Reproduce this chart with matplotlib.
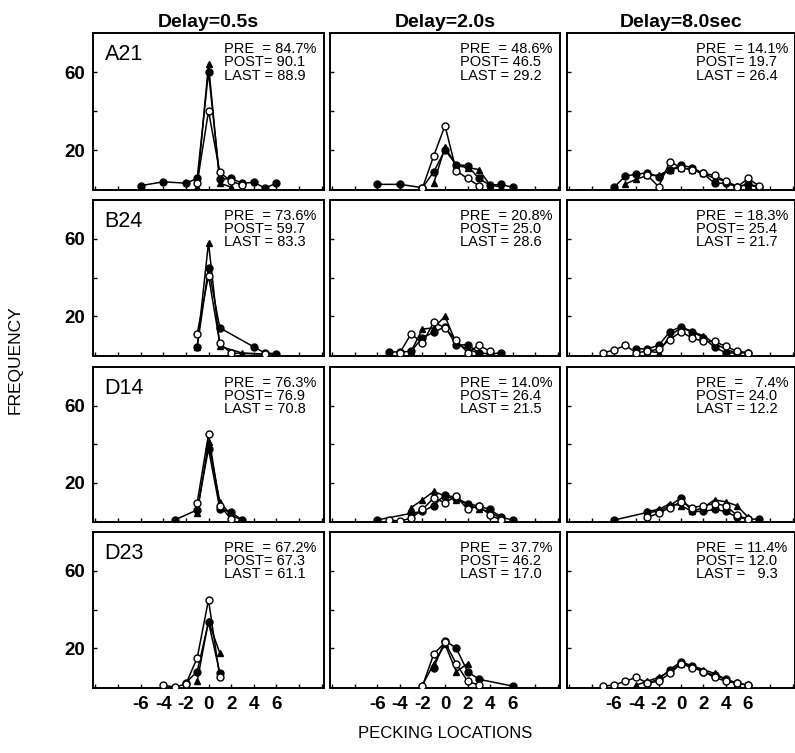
import matplotlib
matplotlib.use("Agg")
import matplotlib.pyplot as plt

plt.rcParams['font.family'] = ['Liberation Sans', 'DejaVu Sans']

# column / row labels
delays = ["Delay=0.5s", "Delay=2.0s", "Delay=8.0sec"]
birds = ["A21", "B24", "D14", "D23"]

# accuracy text per bird, per delay: (PRE, POST, LAST)
stats = {
    "A21": [("84.7%", "90.1", "88.9"), ("48.6%", "46.5", "29.2"), ("14.1%", "19.7", "26.4")],
    "B24": [("73.6%", "59.7", "83.3"), ("20.8%", "25.0", "28.6"), ("18.3%", "25.4", "21.7")],
    "D14": [("76.3%", "76.9", "70.8"), ("14.0%", "26.4", "21.5"), ("  7.4%", "24.0", "12.2")],
    "D23": [("67.2%", "67.3", "61.1"), ("37.7%", "46.2", "17.0"), ("11.4%", "12.0", "  9.3")],
}

# pecking-location frequencies, (x, y) per series: open circle, filled circle, triangle
a21_05_open = ([-1, 0, 1, 2, 3], [3, 40, 8.5, 4, 2])
a21_05_fill = ([-6, -4, -2, -1, 0, 1, 2, 3, 4, 5, 6], [1.7, 3.7, 3, 5.4, 60, 5, 5.4, 3, 3.4, 0.5, 3])
a21_05_tri = ([-1, 0, 1, 2], [1, 64, 3, 1])

a21_20_open = ([-2, -1, 0, 1, 2, 3], [0.5, 17, 32.5, 9.3, 5.4, 1.7])
a21_20_fill = ([-6, -4, -2, -1, 0, 1, 2, 3, 4, 5, 6], [2.4, 2.4, 0.7, 8.8, 20, 12.5, 12, 5.4, 2, 2.4, 0.8])
a21_20_tri = ([-1, 0, 1, 2, 3, 4, 5], [3, 21.5, 12, 11, 10, 2, 1])

a21_80_open = ([-3, -2, -1, 0, 1, 2, 3, 4, 5, 6, 7], [7, 1.2, 14, 11, 10, 8, 7, 4, 1, 5.4, 1.5])
a21_80_fill = ([-6, -5, -4, -3, -2, -1, 0, 1, 2, 3, 4, 5, 6, 7], [0.8, 6.6, 7.6, 8.3, 6.3, 9.7, 12.2, 11, 8, 2.9, 3, 1.2, 2.5, 1.2])
a21_80_tri = ([-5, -4, -3, -2, -1, 0, 1, 2, 3, 4, 5, 6, 7], [2.5, 5, 7, 7, 10, 11, 9.7, 8, 5.5, 4, 1.5, 2, 1])

b24_05_open = ([-1, 0, 1, 2, 5], [11, 41, 6, 1, 0.5])
b24_05_fill = ([-1, 0, 1, 4, 5, 6], [4, 45, 14, 4.2, 1, 0.7])
b24_05_tri = ([-1, 0, 1, 3, 5, 6], [4, 58, 4.5, 1, 0.5, 0.5])

b24_20_open = ([-4, -3, -2, -1, 0, 1, 2, 3, 4], [1.2, 11, 6, 17, 14, 7.6, 1.2, 5, 2])
b24_20_fill = ([-5, -4, -3, -2, -1, 0, 1, 2, 3, 4, 5], [1.7, 1.5, 2, 9, 11.7, 14.7, 5, 5.4, 1.2, 0.5, 1.2])
b24_20_tri = ([-3, -2, -1, 0, 1, 2, 3], [2, 13.4, 14, 20, 6, 3, 1])

b24_80_open = ([-7, -6, -5, -4, -3, -2, -1, 0, 1, 2, 3, 4, 5, 6], [1.2, 2.5, 5, 1.2, 2, 3, 8, 12, 8.8, 7, 7, 4.5, 2, 1.2])
b24_80_fill = ([-4, -3, -2, -1, 0, 1, 2, 3, 4, 5, 6], [3.2, 3.2, 5, 12, 14.7, 12, 9, 4, 1.2, 1, 1.2])
b24_80_tri = ([-3, -2, -1, 0, 1, 2, 3, 4, 5], [2, 1.2, 10, 14, 12, 10, 6, 3, 1])

d14_05_open = ([-1, 0, 1, 2], [9.5, 45, 8, 1])
d14_05_fill = ([-3, -1, 0, 1, 2, 3], [0.5, 5.8, 37.5, 6.4, 4.5, 0.5])
d14_05_tri = ([-1, 0, 1, 2, 3], [4, 40.8, 10, 3, 0.5])

d14_20_open = ([-5, -4, -3, -2, -1, 0, 1, 2, 3, 4, 5], [0.5, 0, 1.5, 6, 12, 9.5, 13, 6, 8, 3, 0.5])
d14_20_fill = ([-6, -3, -2, -1, 0, 1, 2, 3, 4, 5, 6], [0.6, 4, 5, 8, 13.7, 12, 9, 7.8, 6, 2, 0.5])
d14_20_tri = ([-3, -2, -1, 0, 1, 2, 3, 4, 5], [7, 11, 15.4, 13, 11, 9, 6, 5, 1])

d14_80_open = ([-3, -2, -1, 0, 1, 2, 3, 4, 5, 6], [2, 4, 7, 10, 7, 8, 9, 8, 3, 1])
d14_80_fill = ([-6, -3, -2, -1, 0, 1, 2, 3, 4, 5, 6, 7], [0.5, 4.5, 5, 8, 12, 5, 5, 6, 5, 2, 1, 1])
d14_80_tri = ([-3, -2, -1, 0, 1, 2, 3, 4, 5, 6], [5, 6, 9, 8, 5, 7, 11, 10, 8, 2])

d23_05_open = ([-4, -3, -2, -1, 0, 1], [1, 0, 1.5, 15, 45, 5])
d23_05_fill = ([-2, -1, 0, 1], [2.2, 8, 33.5, 7.3])
d23_05_tri = ([-1, 0, 1], [3, 34, 17.5])

d23_20_open = ([-2, -1, 0, 1, 2, 3], [0.5, 17, 23, 12, 3, 1])
d23_20_fill = ([-1, 0, 1, 2, 3, 6], [10, 24, 20, 8, 4, 0.5])
d23_20_tri = ([-2, -1, 0, 1, 2], [1, 12, 22, 8, 12])

d23_80_open = ([-7, -6, -5, -4, -3, -2, -1, 0, 1, 2, 3, 4, 5, 6], [0.5, 1, 3, 5, 2, 3, 7, 12, 10, 8, 5, 3, 2, 1])
d23_80_fill = ([-3, -2, -1, 0, 1, 2, 3, 4, 5, 6], [2, 4, 9, 13, 11, 8, 6, 4, 2, 1])
d23_80_tri = ([-4, -3, -2, -1, 0, 1, 2, 3, 4, 5], [1, 3, 5, 8, 12, 11, 9, 7, 4, 2])

panels = [
    [(a21_05_open, a21_05_fill, a21_05_tri), (a21_20_open, a21_20_fill, a21_20_tri), (a21_80_open, a21_80_fill, a21_80_tri)],
    [(b24_05_open, b24_05_fill, b24_05_tri), (b24_20_open, b24_20_fill, b24_20_tri), (b24_80_open, b24_80_fill, b24_80_tri)],
    [(d14_05_open, d14_05_fill, d14_05_tri), (d14_20_open, d14_20_fill, d14_20_tri), (d14_80_open, d14_80_fill, d14_80_tri)],
    [(d23_05_open, d23_05_fill, d23_05_tri), (d23_20_open, d23_20_fill, d23_20_tri), (d23_80_open, d23_80_fill, d23_80_tri)],
]

W, H = 795, 753
fig = plt.figure(figsize=(W / 100, H / 100), dpi=100)

col_px = [(93, 324), (330, 560), (567, 795)]
row_px = [(33, 190), (200, 356), (367, 522), (532, 688)]

for r, (top, bot) in enumerate(row_px):
    for c, (left, right) in enumerate(col_px):
        ax = fig.add_axes([left / W, 1 - bot / H, (right - left) / W, (bot - top) / H])
        s_open, s_fill, s_tri = panels[r][c]
        ax.plot(*s_fill, color='black', lw=1.1, marker='o', ms=5, mfc='black', mec='black', zorder=3)
        ax.plot(*s_tri, color='black', lw=1.1, marker='^', ms=5, mfc='black', mec='black', zorder=3)
        ax.plot(*s_open, color='black', lw=1.1, marker='o', ms=5, mfc='white', mec='black', mew=1.0, zorder=4)

        ax.set_xlim(-10.2, 10.2)
        ax.set_ylim(-0.5, 80)
        ax.set_xticks(range(-10, 11, 2))
        ax.set_yticks([20, 40, 60])
        if r == 3:
            ax.set_xticklabels(['' if abs(v) > 6 else str(v) for v in range(-10, 11, 2)])
        else:
            ax.set_xticklabels([])
        if c == 0:
            ax.set_yticklabels(['20', '', '60'])
        else:
            ax.set_yticklabels([])
        ax.tick_params(direction='in', length=3, width=1, labelsize=13.5, pad=6)
        for lab in ax.get_xticklabels() + ax.get_yticklabels():
            lab.set_fontweight('bold')
        for sp in ax.spines.values():
            sp.set_linewidth(1.4)

        if c == 0:
            ax.text(0.05, 0.86, birds[r], transform=ax.transAxes, fontsize=15.5, va='center', ha='left')
        pre, post, last = stats[birds[r]][c]
        ax.text(0.565, 0.945, f"PRE  = {pre}\nPOST= {post}\nLAST = {last}",
                transform=ax.transAxes, fontsize=10.5, va='top', ha='left', linespacing=0.95)

        if r == 0:
            ax.set_title(delays[c], fontsize=14, fontweight='bold', pad=4)

fig.text(15 / W, 1 - 360 / H, "FREQUENCY", rotation=90, fontsize=12.5, ha='center', va='center')
fig.text(445 / W, 1 - 734 / H, "PECKING LOCATIONS", fontsize=12, ha='center', va='center')

fig.savefig("out.png", dpi=100)
